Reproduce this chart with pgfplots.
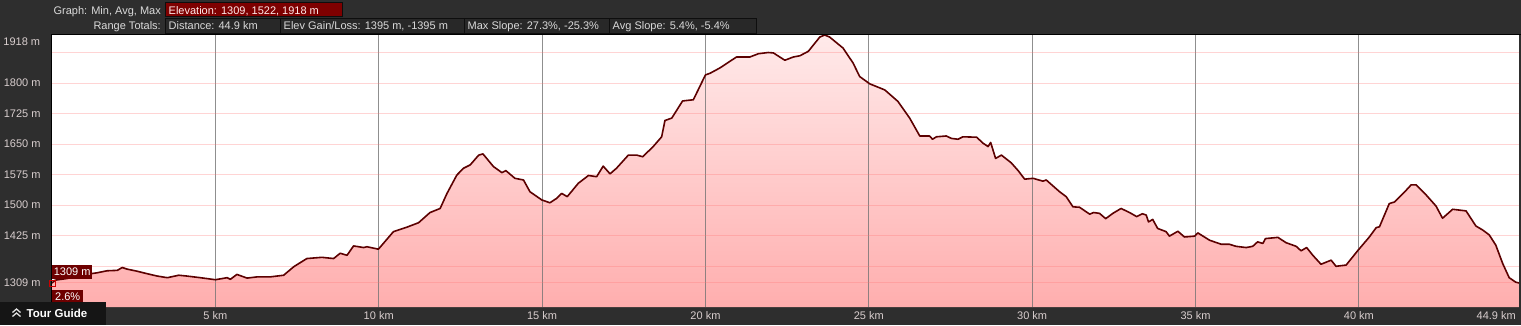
\documentclass[border=0pt]{standalone}
\usepackage{pgfplots}
\pgfplotsset{compat=1.18}
\usepackage{pgfplotstable}
\usepackage{fontspec}
\setmainfont{Liberation Sans}
\definecolor{bg}{HTML}{2E2E2E}
\definecolor{boxfill}{HTML}{282828}
\definecolor{boxline}{HTML}{0E0E0E}
\definecolor{elevred}{HTML}{7E0000}
\definecolor{hdrtxt}{HTML}{DADADA}
\definecolor{labtxt}{HTML}{D8CECE}
\definecolor{linecol}{HTML}{5C0000}
\definecolor{filltop}{HTML}{FFEAEA}
\definecolor{fillbot}{HTML}{FFAEAE}
\definecolor{lblred}{HTML}{6E0000}
\definecolor{tgbox}{HTML}{151515}
\pagecolor{bg}

\pgfplotstableread{
km ele
0.00 1309
0.10 1316
0.46 1320
0.87 1328
1.38 1334
1.69 1339
2.00 1340
2.15 1347
2.30 1343
2.60 1338
2.90 1332
3.22 1326
3.53 1322
3.88 1328
4.13 1326
4.54 1322
5.00 1317
5.36 1322
5.46 1318
5.66 1330
5.97 1321
6.28 1324
6.68 1324
7.09 1328
7.40 1349
7.80 1369
8.26 1372
8.62 1369
8.82 1382
9.03 1377
9.23 1400
9.54 1396
9.64 1398
9.99 1392
10.45 1435
10.86 1446
11.22 1457
11.57 1482
11.88 1492
12.09 1529
12.39 1574
12.60 1591
12.80 1599
13.06 1623
13.19 1626
13.51 1595
13.77 1580
13.89 1585
14.17 1566
14.43 1562
14.63 1533
14.99 1513
15.24 1506
15.45 1517
15.60 1529
15.77 1521
16.11 1554
16.42 1573
16.67 1570
16.87 1596
17.08 1577
17.28 1591
17.64 1623
17.90 1623
18.08 1619
18.40 1644
18.66 1668
18.76 1708
18.97 1714
19.30 1756
19.63 1759
20.00 1820
20.14 1824
20.44 1837
20.95 1864
21.36 1864
21.62 1872
21.92 1875
22.08 1874
22.43 1856
22.69 1864
22.89 1867
23.15 1878
23.50 1913
23.65 1918
23.80 1913
24.21 1886
24.52 1849
24.72 1816
25.03 1798
25.34 1788
25.49 1783
25.89 1755
26.25 1714
26.56 1670
26.86 1670
26.95 1662
27.07 1668
27.37 1670
27.53 1664
27.73 1662
27.88 1668
28.30 1667
28.50 1652
28.65 1644
28.73 1654
28.88 1615
29.06 1623
29.36 1604
29.57 1585
29.77 1564
30.03 1566
30.33 1559
30.43 1562
30.84 1533
31.04 1521
31.25 1496
31.45 1495
31.76 1478
31.88 1482
32.06 1480
32.25 1467
32.47 1480
32.72 1492
32.98 1482
33.20 1472
33.37 1479
33.49 1476
33.56 1459
33.69 1465
33.84 1443
34.10 1435
34.20 1424
34.46 1436
34.66 1422
34.97 1424
35.07 1432
35.43 1414
35.79 1404
36.04 1404
36.24 1399
36.55 1396
36.75 1399
36.90 1410
37.06 1406
37.14 1418
37.52 1421
37.77 1408
38.08 1399
38.23 1388
38.40 1396
38.59 1377
38.84 1355
39.15 1365
39.30 1350
39.61 1353
39.96 1388
40.32 1422
40.53 1445
40.63 1447
40.93 1504
41.09 1508
41.45 1537
41.60 1550
41.75 1550
42.06 1525
42.36 1498
42.56 1468
42.87 1490
43.28 1486
43.58 1449
43.79 1439
43.99 1427
44.19 1402
44.40 1357
44.60 1322
44.80 1311
44.90 1309
}\prof

\begin{document}
\begin{tikzpicture}[x=1pt,y=1pt,font=\fontsize{11}{13}\selectfont]
% header row 1
\draw[boxline,fill=elevred] (165,308.5) rectangle (342,323.3);
\node[anchor=base east,inner sep=0,text=hdrtxt] at (161,311) {Graph: Min, Avg, Max};
\node[anchor=base west,inner sep=0,text=white!92!red] at (168.5,311) {Elevation: 1309, 1522, 1918 m};
% header row 2
\draw[boxline,fill=boxfill] (165,291.7) rectangle (280,307.3);
\draw[boxline,fill=boxfill] (280,291.7) rectangle (464,307.3);
\draw[boxline,fill=boxfill] (464,291.7) rectangle (609,307.3);
\draw[boxline,fill=boxfill] (609,291.7) rectangle (756,307.3);
\node[anchor=base east,inner sep=0,text=hdrtxt] at (161,296) {Range Totals:};
\node[anchor=base west,inner sep=0,text=hdrtxt] at (168.5,296) {Distance: 44.9 km};
\node[anchor=base west,inner sep=0,text=hdrtxt] at (283.5,296) {Elev Gain/Loss: 1395 m, -1395 m};
\node[anchor=base west,inner sep=0,text=hdrtxt] at (467.5,296) {Max Slope: 27.3\%, -25.3\%};
\node[anchor=base west,inner sep=0,text=hdrtxt] at (612.5,296) {Avg Slope: 5.4\%, -5.4\%};
% plot border (top and left dark edge)
\draw[black, line width=1pt] (51.3,18) -- (51.3,290.6) -- (1521,290.6);

\begin{axis}[
  at={(52pt,18pt)}, anchor=south west,
  width=1467pt, height=272pt, scale only axis,
  set layers,
  axis background/.style={fill=white},
  axis line style={draw=none},
  major tick length=0pt,
  xmin=0, xmax=44.9, ymin=1250, ymax=1918,
  xtick={5,10,15,20,25,30,35,40},
  xticklabels={5 km,10 km,15 km,20 km,25 km,30 km,35 km,40 km},
  ytick={1309,1350,1425,1500,1575,1650,1725,1800,1875},
  yticklabels={1309 m,,1425 m,1500 m,1575 m,1650 m,1725 m,1800 m,},
  xmajorgrids, ymajorgrids,
  x grid style={color=black!55, line width=1pt, opacity=0.8},
  y grid style={color=red!55, line width=1pt, opacity=0.3},
  tick label style={text=labtxt, font=\fontsize{11}{13}\selectfont},
  yticklabel style={xshift=-8pt},
  xticklabel style={yshift=-1pt},
  clip mode=individual,
]
\addplot[on layer=axis background, draw=none, top color=filltop, bottom color=fillbot]
  table[x=km,y=ele]{\prof} |- (axis cs:0,1250) -- cycle;
\addplot[color=linecol, line width=1.6pt, line join=round] table[x=km,y=ele]{\prof};
\node[anchor=east, text=labtxt, inner sep=0, xshift=-11.7pt, yshift=-7pt] at (rel axis cs:0,1) {1918 m};
\node[anchor=north east, text=labtxt, inner sep=0, xshift=-3pt, yshift=-4.5pt] at (rel axis cs:1,0) {44.9 km};
\end{axis}

% value labels
\node[fill=lblred, text=white, inner sep=0, minimum width=40pt, minimum height=13.5pt, anchor=south west] at (52,46) {1309 m};
\node[fill=lblred, text=white, inner sep=0, minimum width=31pt, minimum height=14pt, anchor=south west] at (52,21) {2.6\%};
\begin{axis}[
  at={(52pt,18pt)}, anchor=south west,
  width=1467pt, height=272pt, scale only axis,
  hide axis, xmin=0, xmax=44.9, ymin=1250, ymax=1918, clip=false]
\addplot[only marks, mark=square, mark size=3pt, mark options={draw=red!80!black, line width=0.9pt, fill=none}] coordinates {(0,1309)};
\end{axis}
% tour guide
\fill[tgbox] (0,0) rectangle (106,23.5);
\draw[white!75!gray, line width=1.3pt] (12.5,8.5)--(16.5,12)--(20.5,8.5);
\draw[white!75!gray, line width=1.3pt] (12.5,12.5)--(16.5,16)--(20.5,12.5);
\node[anchor=west, inner sep=0, text=white, font=\fontsize{11.5}{14}\selectfont\bfseries] at (26.5,11.5) {Tour Guide};
\pgfresetboundingbox
\useasboundingbox (0,0) rectangle (1521,325);
\end{tikzpicture}
\end{document}
